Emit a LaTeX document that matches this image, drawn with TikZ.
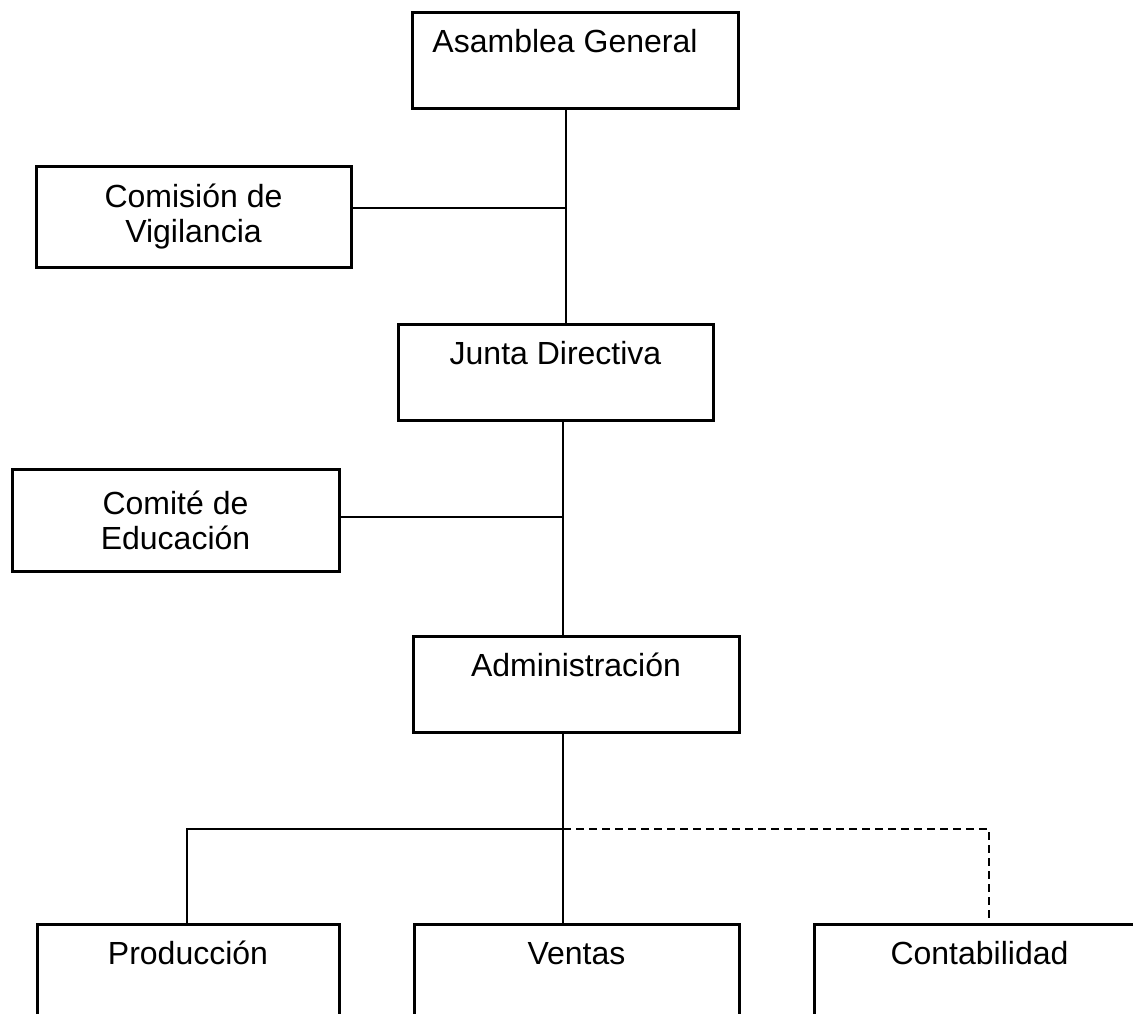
\documentclass[tikz,border=0pt]{standalone}
\usepackage{fontspec}
\setmainfont{Liberation Sans}

\tikzset{
    unit/.style={draw, line width=3pt, inner xsep=0pt, inner ysep=15pt, text height=25pt, text depth=41pt},
    unittwo/.style={draw, line width=3pt, inner sep=0pt, align=center},
    link/.style={line width=2.2pt},
    linkdash/.style={line width=2.2pt, dash pattern=on 8pt off 5pt}
}

\begin{document}
\begin{tikzpicture}[x=1pt, y=-1pt, font=\fontsize{32}{35}\selectfont]
    \useasboundingbox (0,0) rectangle (1133,1014);
    \clip (0,0) rectangle (1133,1014);

    % Asamblea
    \node[unit, minimum width=326pt] (asamblea) at (575,61) {\kern-10pt Asamblea General\kern10pt};

    % Comision
    \node[unittwo, minimum width=315pt, minimum height=100pt] (comision) at (193.5,217) {Comisión de\\Vigilancia};

    % Junta
    \node[unit, minimum width=315pt] (junta) at (555.5,372.5) {Junta Directiva};

    % Comite
    \node[unittwo, minimum width=327pt, minimum height=102pt] (comite) at (175.5,520) {Comité de\\Educación};

    % Administracion
    \node[unit, minimum width=326pt] (admin) at (576,684.5) {Administración};

    % Departamentos
    \node[unit, minimum width=302pt] (produccion) at (188,972) {Producción};
    \node[unit, minimum width=325pt] (ventas) at (576.5,972) {Ventas};
    \node[unit, minimum width=331pt] (contabilidad) at (979.5,972) {Contabilidad};

    % Junctions
    \coordinate (c1) at (566,208);
    \coordinate (c2) at (563,517);
    \coordinate (c3) at (563,829);
    \coordinate (c3l) at (187,829);
    \coordinate (c3r) at (989,829);

    % Lines
    \draw[link] (asamblea.south -| c1) -- (junta.north -| c1);
    \draw[link] (comision.east |- c1) -- (c1);
    \draw[link] (junta.south -| c2) -- (admin.north -| c2);
    \draw[link] (comite.east |- c2) -- (c2);
    \draw[link] (admin.south -| c3) -- (c3);
    \draw[link] (c3) -- (c3l) -- (produccion.north -| c3l);
    \draw[link] (c3) -- (ventas.north -| c3);
    \draw[linkdash] (c3) -- (c3r) -- (contabilidad.north -| c3r);
\end{tikzpicture}
\end{document}
